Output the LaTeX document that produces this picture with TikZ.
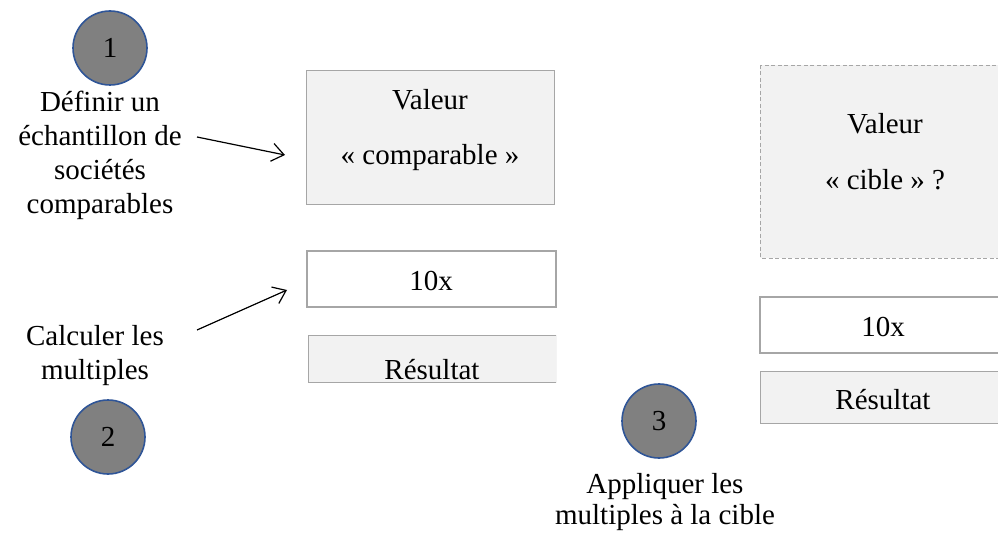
\documentclass[tikz,border=0pt]{standalone}
\usepackage{fontspec}
\setmainfont{Liberation Serif}
\usetikzlibrary{arrows.meta}
\definecolor{boxfill}{HTML}{F2F2F2}
\definecolor{boxline}{HTML}{A6A6A6}
\definecolor{stepline}{HTML}{2F5597}
\definecolor{stepfill}{HTML}{808080}
\begin{document}
\begin{tikzpicture}[x=1pt,y=-1pt,
  every node/.style={font=\fontsize{29}{34}\selectfont, inner sep=0pt},
  stepdot/.style={circle, draw=stepline, fill=stepfill, line width=1.6pt,
    minimum size=74pt},
  label/.style={align=center},
  greybox/.style={draw=boxline, fill=boxfill, line width=0.9pt},
  whitebox/.style={draw=boxline, fill=white, line width=1.8pt},
  pointer/.style={line width=1.2pt, -{Straight Barb[length=12pt,width=18pt,line width=1.2pt]}}]
\useasboundingbox (0,0) rectangle (998,534);
\clip (0,0) rectangle (998,534);

% step 1: comparable sample
\node[stepdot] (s1) at (110,48) {1};
\node[label] (t1) at (100,155) {Définir un\\échantillon de\\sociétés\\comparables};
\draw[greybox] (306,70) rectangle (554,204);
\node (v1) at (430,100) {Valeur};
\node (c1) at (430,158) {« comparable »};
\coordinate (a1s) at (197,137);
\coordinate (a1e) at (285,155);
\draw[pointer] (a1s) -- (a1e);

% step 2: compute multiples
\draw[whitebox] (307,251) rectangle (556,307);
\node (m1) at (431,281) {10x};
\begin{scope}
  \clip (308,335) rectangle (556,382);
  \draw[greybox] (308,335) rectangle (556,382);
  \node[anchor=base] (r1) at (432,379) {Résultat};
\end{scope}
\node[label] (t2) at (95,356) {Calculer les\\multiples};
\node[stepdot] (s2) at (108,437) {2};
\coordinate (a2s) at (197,330);
\coordinate (a2e) at (287,290);
\draw[pointer] (a2s) -- (a2e);

% step 3: apply to the target
\draw[greybox, dashed, dash pattern=on 4pt off 2.5pt] (760,65) rectangle (1010,258);
\node (v2) at (885,124) {Valeur};
\node (c2) at (885,180) {« cible » ?};
\draw[whitebox] (760,297) rectangle (1010,353);
\node (m2) at (883,327) {10x};
\draw[greybox] (760,371) rectangle (1010,423);
\node (r2) at (883,400) {Résultat};
\node[stepdot] (s3) at (659,421) {3};
\node[label, font=\fontsize{29}{31}\selectfont] (t3) at (665,502) {Appliquer les\\multiples à la cible};
\end{tikzpicture}
\end{document}
